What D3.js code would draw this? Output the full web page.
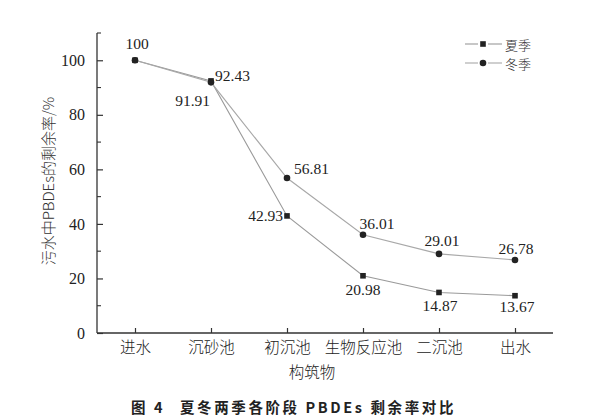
<!DOCTYPE html>
<html><head><meta charset="utf-8">
<script src="https://cdn.jsdelivr.net/npm/d3@7"></script>
<style>
body{margin:0;background:#fff;}
svg{display:block;}
</style></head>
<body>
<svg id="chart" width="608" height="420"></svg>
<script>
const categories = ["进水","沉砂池","初沉池","生物反应池","二沉池","出水"];
const summerValues = [100, 92.43, 42.93, 20.98, 14.87, 13.67];
const winterValues = [100, 91.91, 56.81, 36.01, 29.01, 26.78];
const seriesNames = ["夏季","冬季"];
const yTicks = [0,20,40,60,80,100];
const yMinorTicks = [10,30,50,70,90,110];
const yTitle = "污水中PBDEs的剩余率/%";
const xTitle = "构筑物";
const captionParts = ["图 4", "夏冬两季各阶段 PBDEs 剩余率对比"];

// label placement (offsets relative to the point), separate from data
const summerLabelPos = [
  {show:true, dx:2, dy:-17, anchor:"middle"},
  {show:true, dx:4, dy:-5, anchor:"start"},
  {show:true, dx:-4, dy:0, anchor:"end"},
  {show:true, dx:0, dy:14, anchor:"middle"},
  {show:true, dx:1, dy:13, anchor:"middle"},
  {show:true, dx:2, dy:11, anchor:"middle"}
];
const winterLabelPos = [
  {show:false},
  {show:true, dx:-1, dy:18, anchor:"end"},
  {show:true, dx:7, dy:-10, anchor:"start"},
  {show:true, dx:14, dy:-11, anchor:"middle"},
  {show:true, dx:3, dy:-13, anchor:"middle"},
  {show:true, dx:1, dy:-11, anchor:"middle"}
];

(function(){
const svg = d3.select("#chart");
const mLeft = 97, mRight = 553, mTop = 33, mBottom = 333;
const x = d3.scalePoint().domain(categories).range([mLeft, mRight]).padding(0.5);
const y = d3.scaleLinear().domain([0, 110]).range([mBottom, mTop]);

const serif = "'Liberation Serif','Times New Roman',serif";
const cjk = "'Noto Sans CJK SC','Noto Sans CJK JP',sans-serif";
const axisColor = "#333";

// Y axis
const yAxis = svg.append("g").attr("transform", `translate(${mLeft},0)`)
  .call(d3.axisLeft(y).tickValues(yTicks).tickSize(-6).tickPadding(12).tickFormat(d3.format("d")));
yAxis.attr("font-family", null);
yAxis.select(".domain").attr("stroke", axisColor).attr("stroke-width", 1.3).attr("d", `M0,${mBottom}V${mTop}`);
yAxis.selectAll(".tick line").attr("stroke", axisColor).attr("stroke-width", 1.2);
yAxis.selectAll(".tick text").style("font-family", serif).style("font-size", "16px").attr("fill", "#222");
svg.append("g").selectAll("line").data(yMinorTicks).join("line")
  .attr("x1", mLeft).attr("x2", mLeft + 4).attr("y1", d => y(d)).attr("y2", d => y(d))
  .attr("stroke", axisColor).attr("stroke-width", 1.1);

// X axis
const xAxis = svg.append("g").attr("transform", `translate(0,${mBottom})`)
  .call(d3.axisBottom(x).tickSize(-5).tickPadding(8));
xAxis.attr("font-family", null);
xAxis.select(".domain").attr("stroke", axisColor).attr("stroke-width", 1.3).attr("d", `M${mLeft},0H${mRight}`);
xAxis.selectAll(".tick line").attr("stroke", axisColor).attr("stroke-width", 1.2);
xAxis.selectAll(".tick text").style("font-family", cjk).style("font-size", "15.5px").style("font-weight", 300)
  .attr("fill", "#222").attr("dy", "0.75em");

// Titles
svg.append("text").attr("transform", `translate(47,181) rotate(-90)`)
  .attr("text-anchor", "middle").attr("dominant-baseline", "central")
  .style("font-family", cjk).style("font-size", "15px").style("font-weight", 300).attr("fill", "#333").text(yTitle);
svg.append("text").attr("x", 312).attr("y", 371).attr("text-anchor", "middle")
  .attr("dominant-baseline", "central").style("font-family", cjk).style("font-size", "15.5px").style("font-weight", 300)
  .attr("fill", "#222").text(xTitle);
const cap = svg.append("text").attr("y", 406).attr("dominant-baseline", "central")
  .style("font-family", cjk).style("font-size", "14.5px").style("font-weight", "bold")
  .style("letter-spacing", "2.6px").attr("fill", "#222");
cap.append("tspan").attr("x", 131).text(captionParts[0]);
cap.append("tspan").attr("x", 180).text(captionParts[1]);

// Lines
const line = d3.line().x((d, i) => x(categories[i])).y(d => y(d));
const series = [
  {name: seriesNames[0], values: summerValues, marker: "square", labels: summerLabelPos, stroke: "#9a9a9a"},
  {name: seriesNames[1], values: winterValues, marker: "circle", labels: winterLabelPos, stroke: "#a8a8a8"}
];
series.forEach(s => {
  svg.append("path").datum(s.values).attr("d", line)
    .attr("fill", "none").attr("stroke", s.stroke).attr("stroke-width", 1.1);
});
function drawMarker(g, type, cx, cy) {
  if (type === "square") {
    g.append("rect").attr("x", cx - 2.8).attr("y", cy - 2.8).attr("width", 5.6).attr("height", 5.6).attr("fill", "#222");
  } else {
    g.append("circle").attr("cx", cx).attr("cy", cy).attr("r", 3.3).attr("fill", "#222");
  }
}
series.forEach(s => {
  const g = svg.append("g");
  s.values.forEach((v, i) => drawMarker(g, s.marker, x(categories[i]), y(v)));
});
// value labels
series.forEach(s => {
  s.values.forEach((v, i) => {
    const p = s.labels[i];
    if (!p.show) return;
    svg.append("text").attr("x", x(categories[i]) + p.dx).attr("y", y(v) + p.dy)
      .attr("text-anchor", p.anchor).attr("dominant-baseline", "central")
      .style("font-family", serif).style("font-size", "15.5px").attr("fill", "#222")
      .text(v);
  });
});

// Legend
const legend = svg.append("g");
series.forEach((s, i) => {
  const ly = 44 + i * 19;
  legend.append("line").attr("x1", 465).attr("x2", 478).attr("y1", ly).attr("y2", ly)
    .attr("stroke", s.stroke).attr("stroke-width", 1.1);
  legend.append("line").attr("x1", 488).attr("x2", 502).attr("y1", ly).attr("y2", ly)
    .attr("stroke", s.stroke).attr("stroke-width", 1.1);
  drawMarker(legend, s.marker, 483, ly);
  legend.append("text").attr("x", 505).attr("y", ly).attr("dominant-baseline", "central")
    .style("font-family", cjk).style("font-size", "13px").style("font-weight", 300).attr("fill", "#333").text(s.name);
});
})();
</script>
</body></html>
